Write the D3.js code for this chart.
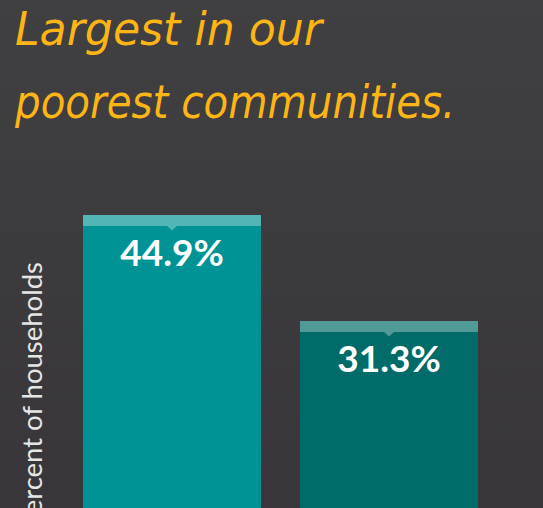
<!DOCTYPE html>
<html>
<head>
<meta charset="utf-8">
<script src="https://cdn.jsdelivr.net/npm/d3@7"></script>
<style>
html,body{margin:0;padding:0;background:#3c3b3d;overflow:hidden;}
svg{display:block;}
</style>
</head>
<body>
<svg id="chart" width="543" height="508"></svg>
<script>
const titleLines = ["Largest in our", "poorest communities."];
const categories = ["Poorest communities", "Other communities"];
const values = [44.9, 31.3];
const valueLabels = ["44.9%", "31.3%"];
const barColors = ["#009395", "#006b68"];
const capColors = ["#52b5b6", "#529a98"];
const yLabel = "Percent of households";

const W = 543, H = 508;
const svg = d3.select("#chart");

const defs = svg.append("defs");
const grad = defs.append("linearGradient").attr("id","bg").attr("x1",0).attr("y1",0).attr("x2",0).attr("y2",1);
grad.append("stop").attr("offset","0%").attr("stop-color","#403f41");
grad.append("stop").attr("offset","100%").attr("stop-color","#38363a");
svg.append("rect").attr("width",W).attr("height",H).attr("fill","url(#bg)");

// scales
const x = d3.scaleBand().domain(categories).range([83, 478]).paddingInner(0.18).paddingOuter(0);
const y = d3.scaleLinear().domain([0, 44.9]).range([565, 215]);

// title
svg.selectAll("text.title").data(titleLines).join("text")
  .attr("class","title")
  .attr("x",15)
  .attr("y",(d,i)=>45 + i*73)
  .attr("font-family","'DejaVu Sans', sans-serif")
  .attr("font-style","italic")
  .attr("font-weight","300")
  .attr("font-size",46)
  .attr("fill","#fdb515")
  .attr("textLength",(d,i)=> i===0 ? 307 : 440)
  .attr("lengthAdjust","spacingAndGlyphs")
  .text(d=>d);

const capH = 11;
const g = svg.append("g");
const bars = g.selectAll("g.bar").data(categories).join("g").attr("class","bar");

bars.append("rect")
  .attr("x", d=>x(d))
  .attr("y", (d,i)=>y(values[i]))
  .attr("width", x.bandwidth())
  .attr("height", (d,i)=>y(0)-y(values[i]))
  .attr("fill",(d,i)=>barColors[i]);

bars.append("rect")
  .attr("x", d=>x(d))
  .attr("y", (d,i)=>y(values[i]))
  .attr("width", x.bandwidth())
  .attr("height", capH)
  .attr("fill",(d,i)=>capColors[i]);

bars.append("path")
  .attr("d",(d,i)=>{
    const cx = x(d)+x.bandwidth()/2, t = y(values[i])+capH;
    return `M${cx-5},${t}L${cx+5},${t}L${cx},${t+4.5}Z`;
  })
  .attr("fill",(d,i)=>capColors[i]);

bars.append("text")
  .attr("x", d=>x(d)+x.bandwidth()/2)
  .attr("y", (d,i)=>y(values[i])+51)
  .attr("text-anchor","middle")
  .attr("font-family","Lato, sans-serif")
  .attr("font-weight","bold")
  .attr("font-size",37)
  .attr("fill","#ffffff")
  .text((d,i)=>valueLabels[i]);

// y label
svg.append("text")
  .attr("transform","translate(42,262) rotate(-90)")
  .attr("text-anchor","end")
  .attr("font-family","Lato, sans-serif")
  .attr("font-size",27.5)
  .attr("fill","#e6e6e6")
  .text(yLabel);
</script>
</body>
</html>
